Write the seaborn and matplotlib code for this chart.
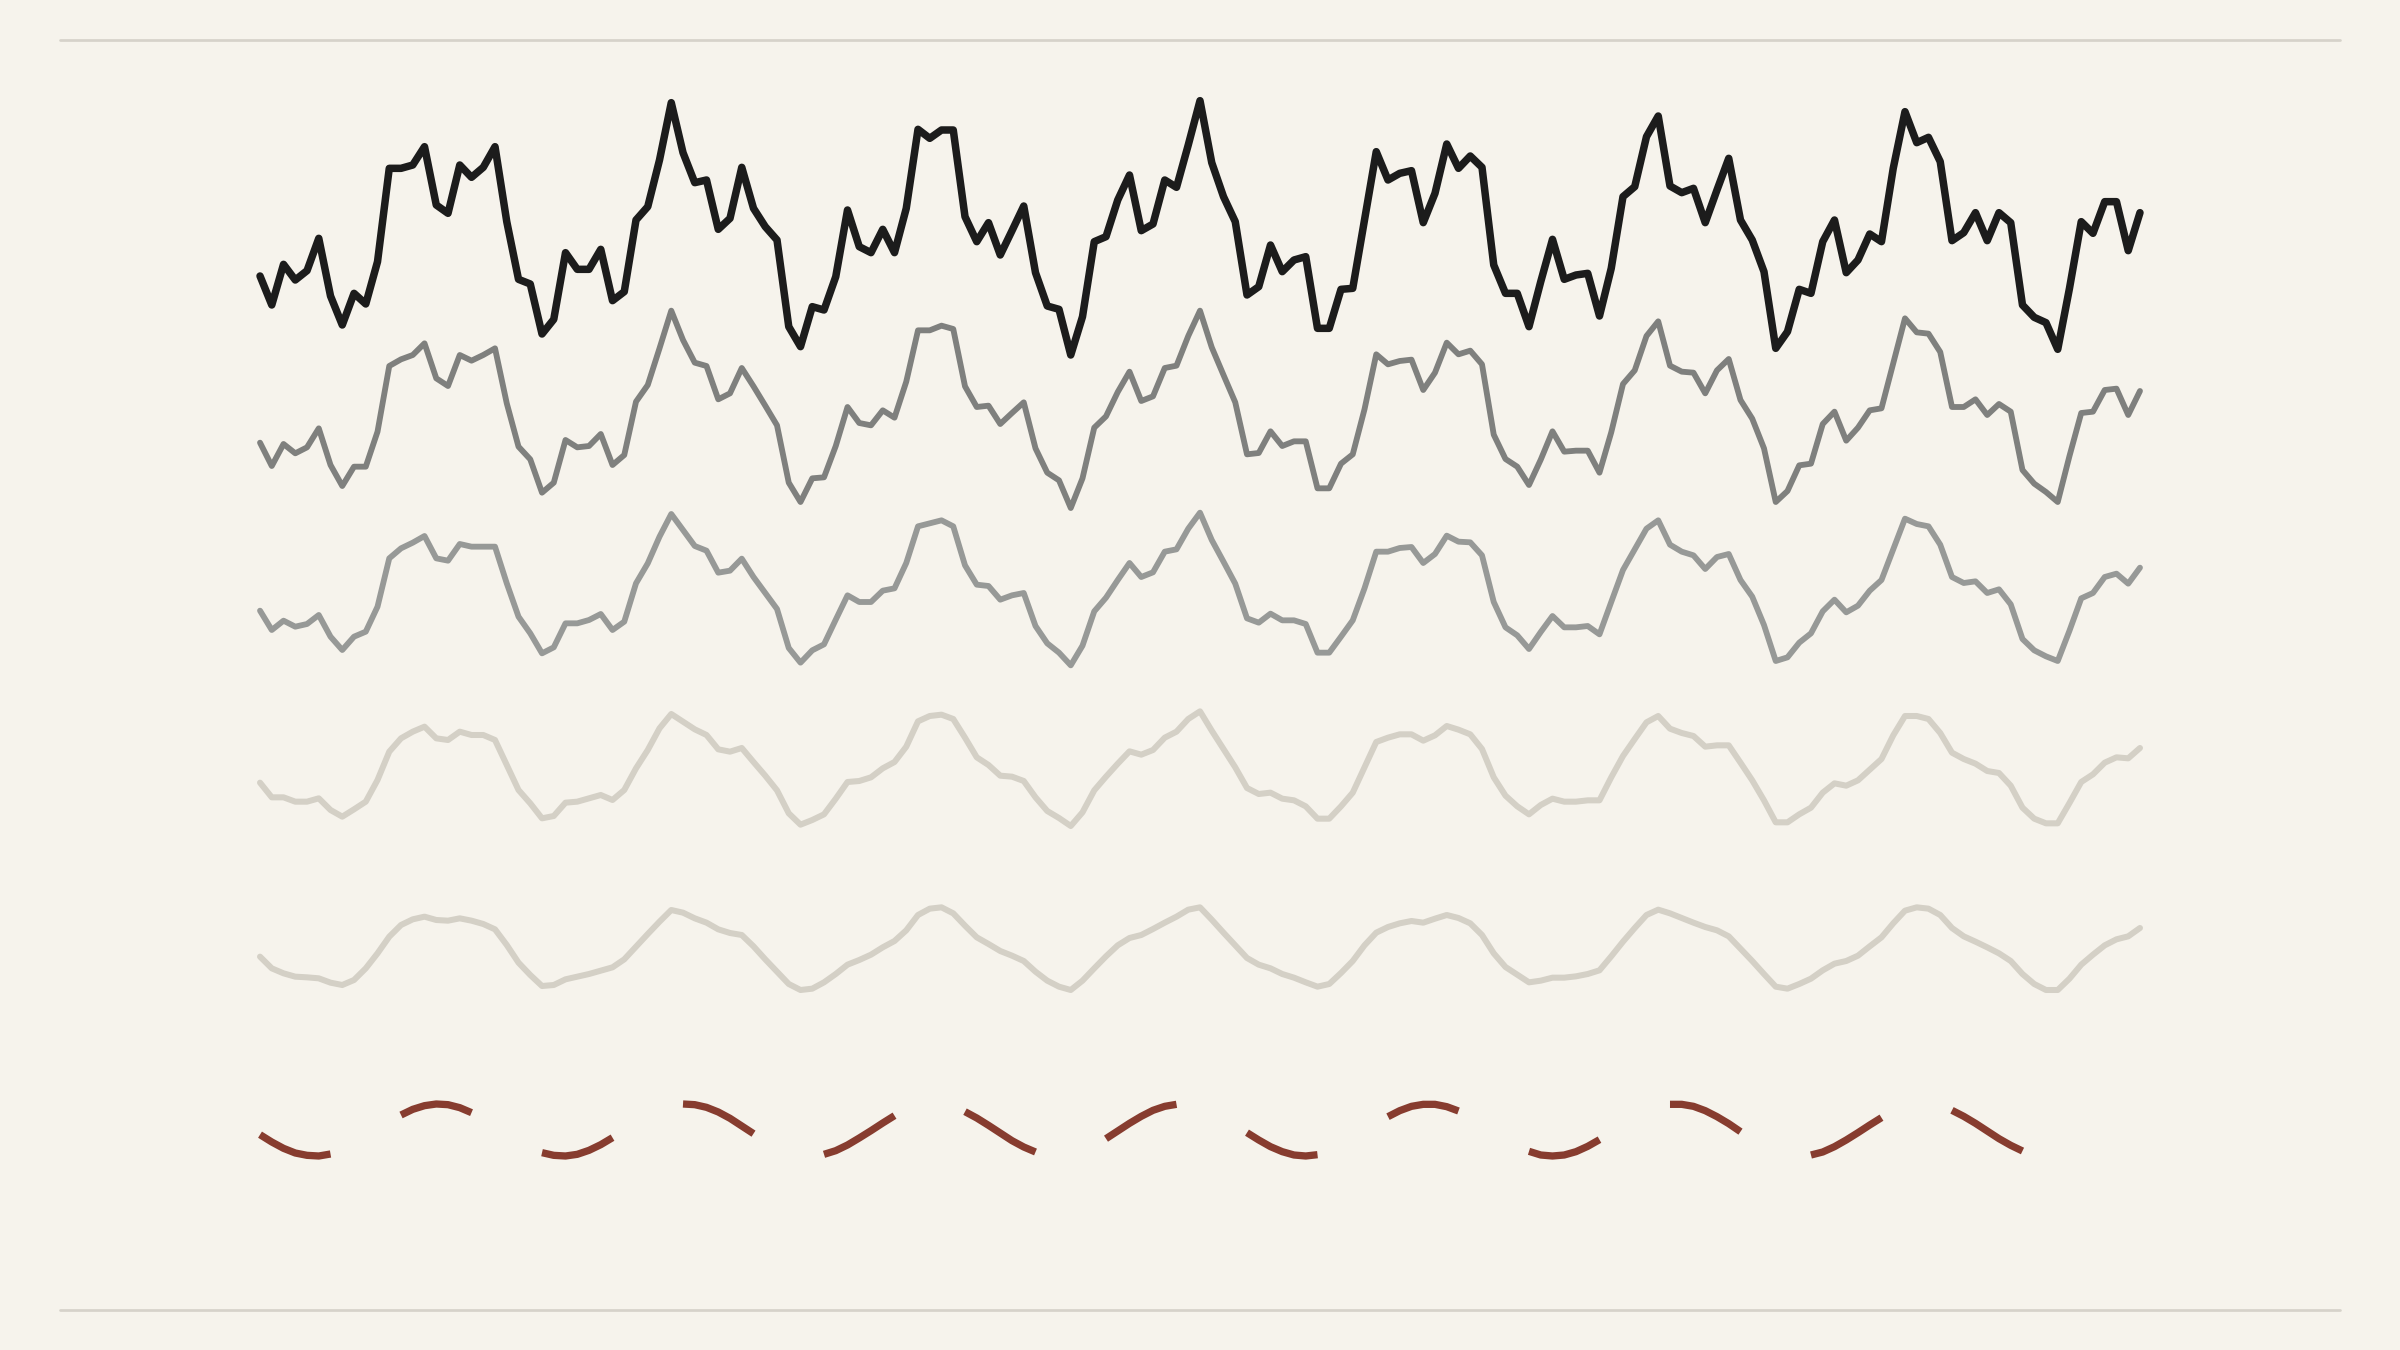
import numpy as np
import pandas as pd
import matplotlib
matplotlib.use("Agg")
import matplotlib.pyplot as plt
import seaborn as sns

# ---------------------------------------------------------------------------
# Data (one value per day)
# ---------------------------------------------------------------------------

DAYS = np.arange(161)

RAW = [
    31.2, 22.5, 34.7, 30.0, 32.8, 42.5, 25.2, 16.5, 26.0, 22.8,
    35.5, 63.5, 63.5, 64.5, 70.0, 52.5, 50.0, 64.5, 60.8, 63.8,
    70.0, 47.5, 30.2, 28.8, 13.8, 18.2, 38.2, 33.2, 33.2, 39.2,
    23.8, 26.5, 48.0, 52.0, 66.0, 83.2, 68.2, 59.2, 60.0, 45.2,
    48.5, 63.8, 51.5, 46.0, 42.0, 16.0, 10.0, 22.0, 21.0, 31.0,
    51.0, 40.0, 38.2, 45.2, 38.2, 51.5, 75.2, 72.5, 75.0, 75.0,
    49.0, 41.5, 47.2, 37.5, 44.8, 52.2, 32.2, 22.2, 21.2, 7.5,
    19.0, 41.5, 43.0, 54.0, 61.5, 44.8, 46.8, 60.0, 57.8, 70.5,
    83.8, 65.2, 55.0, 47.5, 25.5, 28.0, 40.5, 32.5, 36.0, 37.0,
    15.5, 15.5, 27.2, 27.5, 48.0, 68.5, 60.0, 62.0, 62.8, 47.2,
    56.0, 70.8, 63.5, 67.2, 63.8, 34.5, 26.0, 26.0, 16.0, 29.5,
    42.2, 30.2, 31.5, 32.0, 19.2, 33.5, 55.0, 58.0, 73.0, 79.2,
    58.2, 56.2, 57.5, 47.2, 57.0, 66.5, 48.0, 42.0, 32.5, 9.5,
    14.5, 27.2, 26.0, 41.5, 48.0, 32.2, 36.0, 43.8, 41.5, 63.5,
    80.5, 71.2, 72.8, 65.5, 41.8, 44.2, 50.2, 41.8, 50.2, 47.2,
    22.5, 18.8, 17.2, 9.2, 27.5, 47.5, 44.0, 53.5, 53.5, 38.8,
    50.2,
]

LIGHT = [
    35.2, 28.2, 34.8, 32.0, 33.8, 39.5, 28.5, 22.2, 28.0, 28.0,
    38.5, 58.2, 60.2, 61.5, 65.0, 54.5, 52.2, 61.5, 59.8, 61.5,
    63.5, 47.0, 34.0, 30.2, 20.2, 23.2, 36.0, 33.8, 34.2, 37.8,
    28.5, 31.5, 47.5, 52.5, 63.5, 74.8, 66.0, 59.2, 58.2, 48.2,
    50.0, 57.6, 52.1, 46.3, 40.4, 23.2, 17.4, 24.5, 24.8, 34.2,
    45.9, 41.1, 40.4, 44.9, 42.7, 53.5, 68.9, 68.9, 70.3, 69.3,
    52.1, 45.9, 46.3, 40.8, 44.1, 47.3, 33.5, 26.2, 23.9, 15.6,
    24.5, 39.7, 43.1, 50.4, 56.5, 47.7, 49.1, 57.6, 58.3, 67.2,
    74.8, 63.8, 55.5, 47.3, 31.7, 32.1, 38.6, 34.2, 35.6, 35.6,
    21.5, 21.5, 28.9, 31.7, 45.2, 61.7, 58.7, 59.7, 60.1, 51.0,
    56.2, 65.2, 61.7, 62.8, 58.7, 37.6, 30.3, 28.0, 22.5, 30.1,
    38.6, 32.5, 32.8, 32.8, 26.2, 38.3, 52.8, 56.9, 67.2, 71.6,
    58.3, 56.5, 56.2, 50.0, 56.9, 60.3, 48.0, 42.4, 33.5, 17.4,
    20.7, 28.4, 28.9, 40.8, 44.5, 35.8, 39.7, 44.9, 45.5, 59.0,
    72.5, 68.3, 67.9, 62.4, 45.9, 45.9, 48.2, 43.5, 46.8, 44.5,
    27.0, 22.9, 20.4, 17.4, 31.2, 44.1, 44.5, 51.0, 51.4, 43.5,
    50.7,
]

MEDIUM = [
    38.8, 33.0, 35.8, 34.0, 34.8, 37.5, 31.0, 27.0, 31.0, 32.5,
    40.0, 54.5, 57.5, 59.2, 61.2, 54.5, 53.8, 58.8, 58.0, 58.0,
    58.0, 47.0, 37.0, 32.0, 26.0, 27.8, 35.0, 35.0, 36.0, 37.8,
    33.0, 35.5, 47.0, 53.0, 61.0, 67.8, 63.0, 58.2, 56.8, 50.2,
    50.8, 54.4, 48.9, 44.1, 39.3, 27.6, 23.2, 26.9, 28.7, 36.1,
    43.4, 41.4, 41.4, 44.8, 45.5, 53.1, 64.1, 65.0, 65.9, 64.1,
    52.4, 46.6, 46.2, 42.1, 43.4, 44.1, 34.2, 29.0, 26.2, 22.4,
    28.3, 38.6, 42.7, 48.0, 53.1, 48.9, 50.3, 56.5, 57.2, 63.4,
    68.2, 60.0, 53.5, 46.9, 36.5, 35.2, 37.9, 35.9, 35.9, 34.8,
    26.2, 26.2, 31.0, 35.9, 45.5, 56.5, 56.5, 57.6, 57.9, 53.1,
    55.8, 61.3, 59.5, 59.3, 55.4, 41.4, 33.8, 31.4, 27.3, 32.4,
    37.2, 33.8, 33.8, 34.2, 31.7, 41.4, 51.0, 57.2, 63.4, 65.9,
    58.6, 56.5, 55.4, 51.3, 54.9, 55.8, 48.0, 43.0, 34.5, 23.7,
    24.8, 29.2, 32.0, 38.6, 42.1, 38.3, 40.3, 44.8, 48.0, 57.2,
    66.4, 64.8, 64.1, 58.6, 48.9, 47.1, 47.6, 44.1, 45.2, 40.7,
    30.3, 26.9, 25.1, 23.7, 32.8, 42.5, 44.1, 48.9, 49.9, 46.9,
    51.7,
]

STRONG = [
    41.2, 36.8, 36.8, 35.5, 35.5, 36.5, 33.0, 31.0, 33.2, 35.5,
    42.0, 50.5, 54.5, 56.5, 58.0, 54.5, 54.0, 56.5, 55.5, 55.5,
    54.0, 46.5, 39.0, 35.0, 30.5, 31.2, 35.2, 35.5, 36.5, 37.5,
    36.0, 39.0, 45.5, 51.0, 57.5, 61.8, 59.5, 57.2, 55.5, 51.2,
    50.5, 51.6, 47.4, 43.3, 38.9, 32.0, 28.6, 30.0, 31.7, 36.4,
    41.4, 41.7, 42.8, 45.5, 47.4, 52.0, 59.6, 61.2, 61.6, 60.3,
    54.7, 48.8, 46.5, 43.3, 43.0, 41.7, 36.8, 32.7, 30.6, 28.2,
    32.3, 38.9, 43.0, 46.9, 50.6, 49.6, 51.0, 54.7, 56.5, 60.3,
    62.6, 56.8, 51.3, 45.8, 39.6, 37.8, 38.2, 36.4, 35.9, 34.1,
    30.4, 30.4, 34.1, 38.2, 45.8, 53.4, 54.7, 55.7, 55.7, 53.8,
    55.4, 58.2, 57.1, 55.7, 51.3, 42.8, 37.3, 34.1, 31.7, 34.5,
    36.4, 35.5, 35.5, 35.9, 35.9, 42.8, 49.2, 54.3, 59.3, 61.2,
    57.4, 56.1, 55.2, 52.0, 52.4, 52.4, 47.2, 41.9, 35.9, 29.3,
    29.3, 31.7, 33.7, 38.2, 41.0, 40.3, 41.9, 45.1, 48.3, 55.4,
    61.2, 61.2, 60.3, 56.1, 50.2, 48.3, 46.9, 44.7, 44.1, 40.3,
    33.7, 30.4, 29.0, 29.0, 35.1, 41.4, 43.7, 47.2, 48.8, 48.5,
    51.6,
]

HEAVY = [
    43.0, 39.5, 38.0, 37.0, 36.8, 36.5, 35.2, 34.5, 36.0, 39.5,
    44.0, 49.0, 52.5, 54.2, 55.0, 54.0, 53.8, 54.5, 53.8, 52.8,
    51.2, 46.5, 41.2, 37.5, 34.2, 34.5, 36.2, 37.0, 37.8, 38.8,
    39.8, 42.2, 46.0, 49.8, 53.5, 57.0, 56.2, 54.5, 53.2, 51.2,
    50.1, 49.5, 46.1, 42.2, 38.5, 34.8, 33.0, 33.4, 35.3, 37.8,
    40.6, 42.0, 43.6, 45.8, 47.7, 50.9, 55.5, 57.4, 57.8, 56.0,
    52.3, 48.8, 46.8, 44.7, 43.3, 41.7, 38.5, 35.8, 34.0, 33.0,
    35.8, 39.5, 43.1, 46.4, 48.6, 49.5, 51.3, 53.2, 55.0, 57.1,
    57.8, 54.1, 50.2, 46.4, 42.6, 40.6, 39.5, 37.8, 36.7, 35.3,
    34.0, 34.8, 38.1, 41.7, 46.4, 50.2, 51.9, 53.0, 53.7, 53.2,
    54.4, 55.5, 54.6, 53.0, 49.5, 44.0, 39.9, 37.6, 35.3, 35.8,
    36.7, 36.7, 37.1, 37.8, 38.9, 43.1, 47.5, 51.6, 55.5, 57.1,
    56.0, 54.6, 53.2, 51.9, 50.9, 49.1, 45.4, 41.7, 37.8, 34.0,
    33.4, 34.8, 36.4, 38.9, 40.9, 41.7, 43.3, 46.1, 48.8, 53.0,
    56.8, 57.8, 57.4, 55.5, 51.6, 49.1, 47.5, 45.8, 44.0, 41.7,
    37.8, 34.8, 33.0, 33.0, 36.4, 40.6, 43.6, 46.4, 48.2, 49.1,
    51.6,
]

# underlying periodic signal, days 0-150
SIGNAL = [
    43.6, 41.4, 39.5, 38.1, 37.4, 37.2, 37.8, 39.0, 40.7, 42.9,
    45.2, 47.4, 49.5, 51.2, 52.3, 52.8, 52.6, 51.7, 50.2, 48.3,
    46.1, 43.8, 41.6, 39.6, 38.2, 37.4, 37.2, 37.7, 38.9, 40.6,
    42.7, 45.0, 47.3, 49.4, 51.1, 52.2, 52.8, 52.6, 51.8, 50.4,
    48.5, 46.2, 43.9, 41.7, 39.8, 38.3, 37.4, 37.2, 37.7, 38.8,
    40.5, 42.6, 44.8, 47.1, 49.3, 51.0, 52.2, 52.8, 52.7, 51.9,
    50.5, 48.6, 46.4, 44.1, 41.8, 39.9, 38.4, 37.5, 37.2, 37.6,
    38.7, 40.4, 42.4, 44.7, 47.0, 49.1, 50.9, 52.1, 52.7, 52.7,
    51.9, 50.6, 48.7, 46.6, 44.2, 42.0, 40.0, 38.5, 37.5, 37.2,
    37.6, 38.6, 40.2, 42.3, 44.5, 46.8, 49.0, 50.8, 52.1, 52.7,
    52.7, 52.0, 50.7, 48.9, 46.7, 44.4, 42.1, 40.1, 38.6, 37.5,
    37.2, 37.5, 38.5, 40.1, 42.1, 44.4, 46.7, 48.8, 50.7, 52.0,
    52.7, 52.7, 52.1, 50.8, 49.0, 46.9, 44.5, 42.3, 40.3, 38.6,
    37.6, 37.2, 37.5, 38.4, 40.0, 42.0, 44.2, 46.5, 48.7, 50.6,
    51.9, 52.7, 52.7, 52.1, 50.9, 49.1, 47.0, 44.7, 42.4, 40.4,
    38.7,
]

# ---------------------------------------------------------------------------
# Style
# ---------------------------------------------------------------------------

BG        = "#f6f3ec"
RULE      = "#d6d2ca"
BAND_STEP = 54.0          # vertical spacing between stacked series
SEG_LEN   = 12            # signal drawn for 7 of every 12 days

STACK = [
    (RAW,    "#1c1c1c", 3.6),
    (LIGHT,  "#7f807e", 2.8),
    (MEDIUM, "#979997", 2.8),
    (STRONG, "#d4d0c6", 2.9),
    (HEAVY,  "#d4d0c6", 2.9),
]
SIGNAL_COLOR = "#873c2f"


def main() -> None:
    sns.set_theme(style="white")
    fig = plt.figure(figsize=(16, 9), dpi=150, facecolor=BG)
    ax = fig.add_axes([0, 0, 1, 1])
    ax.set_facecolor(BG)

    for k, (vals, color, lw) in enumerate(STACK):
        y = np.asarray(vals) - BAND_STEP * k
        sns.lineplot(x=DAYS, y=y, ax=ax, color=color, linewidth=lw,
                     estimator=None, sort=False)

    sig = pd.DataFrame({"day": DAYS[:len(SIGNAL)], "value": SIGNAL})
    sig = sig[sig["day"] % SEG_LEN <= 6].copy()
    sig["seg"] = sig["day"] // SEG_LEN
    sig["value"] = sig["value"] - BAND_STEP * len(STACK)
    sns.lineplot(data=sig, x="day", y="value", units="seg", estimator=None,
                 ax=ax, color=SIGNAL_COLOR, linewidth=3.5,
                 solid_capstyle="butt", sort=False)

    ax.set_xlim(-22.13, 182.13)
    ax.set_ylim(-291, 114)
    ax.axhline(102, xmin=0.025, xmax=0.975, color=RULE, lw=1.3)
    ax.axhline(-279, xmin=0.025, xmax=0.975, color=RULE, lw=1.3)
    ax.axis("off")

    fig.savefig("out.png", dpi=150, facecolor=BG)
    plt.close(fig)


if __name__ == "__main__":
    main()
